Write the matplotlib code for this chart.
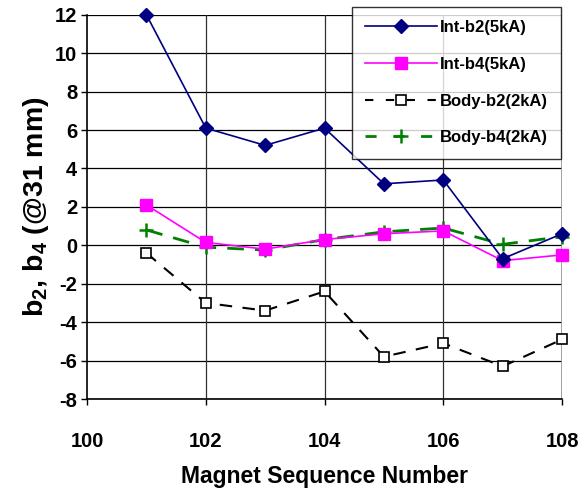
import numpy as np
import matplotlib.pyplot as plt

plt.rcParams['font.family'] = ['Liberation Sans', 'DejaVu Sans']
plt.rcParams['font.weight'] = 'bold'
plt.rcParams['axes.unicode_minus'] = False
plt.rcParams['mathtext.fontset'] = 'custom'
plt.rcParams['mathtext.rm'] = 'Liberation Sans:bold'
plt.rcParams['mathtext.bf'] = 'Liberation Sans:bold'

# magnet sequence numbers
magnets = [101, 102, 103, 104, 105, 106, 107, 108]

# harmonics
int_b2 = [12.0, 6.1, 5.2, 6.1, 3.2, 3.4, -0.7, 0.6]
int_b4 = [2.1, 0.15, -0.2, 0.3, 0.6, 0.75, -0.8, -0.5]
body_b2 = [-0.4, -3.0, -3.4, -2.4, -5.8, -5.1, -6.3, -4.9]
body_b4 = [0.8, -0.1, -0.25, 0.3, 0.7, 0.9, 0.05, 0.45]

xticks = [100, 102, 104, 106, 108]
yticks = list(range(-8, 13, 2))

fig = plt.figure(figsize=(5.86, 4.94), dpi=100)
ax = fig.add_axes([0.1485, 0.1923, 0.8106, 0.7779])

ax.plot(magnets, int_b2, color='#000080', lw=1.2, marker='D', ms=7,
        label='Int-b2(5kA)', clip_on=False, zorder=5)
ax.plot(magnets, int_b4, color='#ff00ff', lw=1.2, marker='s', ms=8,
        label='Int-b4(5kA)', clip_on=False, zorder=4)
ax.plot(magnets, body_b2, color='black', lw=1.5, dashes=(6, 5), marker='s',
        ms=7, mfc='white', mec='black', mew=1.2, label='Body-b2(2kA)',
        clip_on=False, zorder=3)
ax.plot(magnets, body_b4, color='#008000', lw=2, dashes=(6, 4), marker='+',
        ms=10, mew=1.8, label='Body-b4(2kA)', clip_on=False, zorder=3)

ax.set_xlim(100, 108)
ax.set_ylim(-8, 12)
ax.set_xticks(xticks)
ax.set_yticks(yticks)

# grid
for y in yticks:
    ax.axhline(y, color='black', lw=0.9, zorder=0)
for x in xticks[1:-1]:
    ax.axvline(x, color='#303030', lw=0.9, zorder=0)
ax.axvline(108, color='#909090', lw=1.2, zorder=0)

ax.spines['top'].set_visible(False)
ax.spines['right'].set_visible(False)
ax.spines['left'].set_linewidth(1.2)
ax.spines['bottom'].set_linewidth(1.2)

ax.tick_params(axis='both', labelsize=14.5, length=4, width=1)
ax.tick_params(axis='x', pad=20)
ax.tick_params(axis='y', pad=3)
for lab in ax.get_xticklabels() + ax.get_yticklabels():
    lab.set_fontweight('bold')

ax.set_xlabel('Magnet Sequence Number', fontsize=16.5, fontweight='bold', labelpad=10)
ax.set_ylabel(r'b$_\mathrm{2}$, b$_\mathrm{4}$ (@31 mm)', fontsize=20.5,
              fontweight='bold', labelpad=3)

leg = fig.legend(loc='upper left', bbox_to_anchor=(0.600, 0.986), fontsize=12,
                 frameon=True, fancybox=False, edgecolor='black',
                 handlelength=4.3, handletextpad=0.2, labelspacing=1.3,
                 borderpad=0.8, borderaxespad=0)
leg.get_frame().set_linewidth(1.0)
for t in leg.get_texts():
    t.set_fontweight('bold')
# shorter dash pattern look in the legend, like the reference
for h in leg.get_lines()[2:]:
    h.set_dashes((4, 6))

fig.savefig('out.png', dpi=100)
